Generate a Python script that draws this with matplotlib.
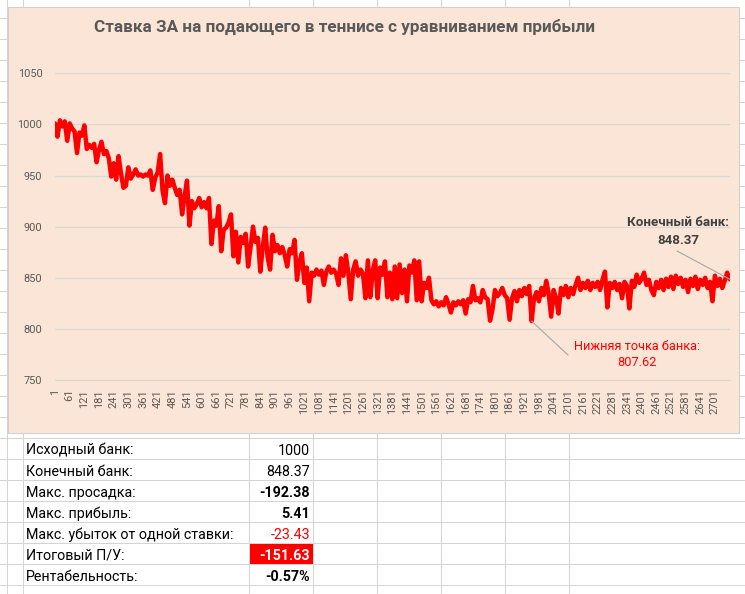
import numpy as np
import matplotlib.pyplot as plt
from matplotlib.patches import Rectangle

plt.rcParams['font.family'] = ['Roboto', 'DejaVu Sans']

# DATA
title = "Ставка ЗА на подающего в теннисе с уравниванием прибыли"
n_bets = 2763
bank = [
    1001, 988, 1004, 998, 1003, 984, 1001, 996, 993, 972,
    992, 989, 999, 976, 980, 977, 981, 963, 975, 983,
    971, 974, 967, 949, 962, 946, 969, 952, 938, 940,
    958, 947, 951, 956, 950, 951, 949, 951, 950, 955,
    936, 948, 953, 971, 935, 923, 950, 940, 946, 938,
    931, 936, 912, 930, 945, 901, 925, 918, 922, 928,
    919, 924, 918, 928, 883, 906, 901, 920, 876, 897,
    899, 904, 912, 871, 895, 865, 890, 884, 893, 861,
    880, 900, 885, 889, 856, 880, 899, 870, 858, 892,
    876, 882, 874, 880, 872, 861, 878, 874, 887, 848,
    865, 874, 845, 860, 827, 855, 852, 858, 853, 857,
    843, 856, 861, 855, 858, 854, 843, 869, 852, 872,
    855, 829, 858, 866, 852, 858, 854, 830, 867, 831,
    857, 867, 830, 860, 853, 866, 831, 855, 829, 861,
    830, 863, 835, 858, 827, 862, 855, 867, 828, 866,
    827, 845, 840, 850, 828, 824, 827, 822, 826, 823,
    831, 824, 816, 826, 823, 827, 824, 828, 815, 829,
    826, 842, 828, 830, 826, 838, 831, 829, 808, 819,
    838, 832, 835, 840, 833, 830, 809, 830, 837, 827,
    838, 832, 840, 834, 842, 807.62, 830, 836, 827, 840,
    833, 847, 834, 812, 838, 830, 815, 840, 833, 842,
    831, 840, 834, 843, 850, 838, 845, 840, 847, 838,
    845, 841, 846, 838, 848, 856, 821, 845, 840, 846,
    838, 844, 830, 846, 842, 820, 847, 841, 853, 845,
    849, 855, 843, 848, 838, 833, 846, 840, 848, 838,
    849, 841, 851, 839, 852, 844, 850, 841, 848, 836,
    849, 842, 851, 839, 848, 843, 850, 840, 846, 827,
    852, 842, 849, 840, 847, 855,
    848.37,
]
bet_no = np.append(np.arange(1, 2752, 10), n_bets)
x_ticks = np.arange(1, 2702, 60)
y_ticks = [750, 800, 850, 900, 950, 1000, 1050]

end_label = "Конечный банк:"
end_value = "848.37"
low_label = "Нижняя точка банка:"
low_value = "807.62"

stat_names = ["Исходный банк:", "Конечный банк:", "Макс. просадка:", "Макс. прибыль:",
              "Макс. убыток от одной ставки:", "Итоговый П/У:", "Рентабельность:"]
stat_values = ["1000", "848.37", "-192.38", "5.41", "-23.43", "-151.63", "-0.57%"]
stat_bold = [False, False, True, True, False, True, True]
stat_colors = ["black", "black", "black", "black", "#ff0000", "white", "black"]

W, H = 745, 594
fig = plt.figure(figsize=(W / 100, H / 100), dpi=100)

# spreadsheet background (pixel coordinates)
bg = fig.add_axes([0, 0, 1, 1], zorder=0)
bg.set_xlim(0, W)
bg.set_ylim(H, 0)
bg.axis('off')
grid_c = '#d4d4d4'
for k in range(-1, 28):
    bg.axhline(18.3 + 21 * k, color=grid_c, lw=0.75)
for xc in [7, 23, 249, 313, 377, 441, 505, 569]:
    bg.axvline(xc, color=grid_c, lw=0.75)

# chart area
bg.add_patch(Rectangle((8, 7), 731, 425.5, facecolor='#fbe5d6', edgecolor='#d0d0d0', lw=0.75, zorder=3))
bg.text(345, 27, title, ha='center', va='center', fontsize=12.3, fontweight='bold', color='#595959', zorder=4)

# table below the chart
bg.add_patch(Rectangle((249.5, 543.5), 63.5, 20.8, facecolor='#ff0000', edgecolor='none', zorder=3))
for i, name in enumerate(stat_names):
    yc = 448.8 + 21 * i + 2
    bg.text(26, yc, name, ha='left', va='center', fontsize=10.3, color='black', zorder=4)
    bg.text(310, yc, stat_values[i], ha='right', va='center', fontsize=10.3, color=stat_colors[i],
            fontweight='bold' if stat_bold[i] else 'normal', zorder=4)

# line chart
x0, x1 = 54.9, 730.2
y_top, y_bot = 73.3, 380
ax = fig.add_axes([x0 / W, 1 - y_bot / H, (x1 - x0) / W, (y_bot - y_top) / H], zorder=1)
ax.patch.set_alpha(0)
ax.plot(bet_no, bank, color='#ff0000', lw=3.2, solid_joinstyle='round', solid_capstyle='round', zorder=3)
ax.set_xlim(0.5, n_bets + 0.5)
ax.set_ylim(750, 1050)
ax.set_yticks(y_ticks)
ax.set_xticks(x_ticks)
ax.set_xticklabels([str(t) for t in x_ticks], rotation=90, va='top', ha='center')
ax.tick_params(axis='both', length=0, labelsize=7.9, labelcolor='#595959')
ax.tick_params(axis='x', pad=6.5)
ax.tick_params(axis='y', pad=9)
ax.grid(axis='y', color='#d9d9d9', lw=0.9)
ax.set_axisbelow(True)
for side in ['top', 'right', 'left']:
    ax.spines[side].set_visible(False)
ax.spines['bottom'].set_color('#d9d9d9')

# annotations
i_min = int(np.argmin(bank))
ax.annotate('', xy=(bet_no[i_min], bank[i_min]), xytext=(568, H - 355), textcoords='figure pixels',
            arrowprops=dict(arrowstyle='-', color='#a6a6a6', lw=0.8, shrinkA=0, shrinkB=0))
ax.annotate('', xy=(bet_no[-1], bank[-1]), xytext=(677, H - 251), textcoords='figure pixels',
            arrowprops=dict(arrowstyle='-', color='#a6a6a6', lw=0.8, shrinkA=0, shrinkB=0))
bg.text(637, 347, low_label, ha='center', va='center', fontsize=9.2, color='#ff0000', zorder=4)
bg.text(637, 363, low_value, ha='center', va='center', fontsize=9.2, color='#ff0000', zorder=4)
bg.text(678, 222, end_label, ha='center', va='center', fontsize=9.6, fontweight='bold', color='#404040', zorder=4)
bg.text(678, 240, end_value, ha='center', va='center', fontsize=9.6, fontweight='bold', color='#404040', zorder=4)

fig.savefig('out.png', dpi=100)
